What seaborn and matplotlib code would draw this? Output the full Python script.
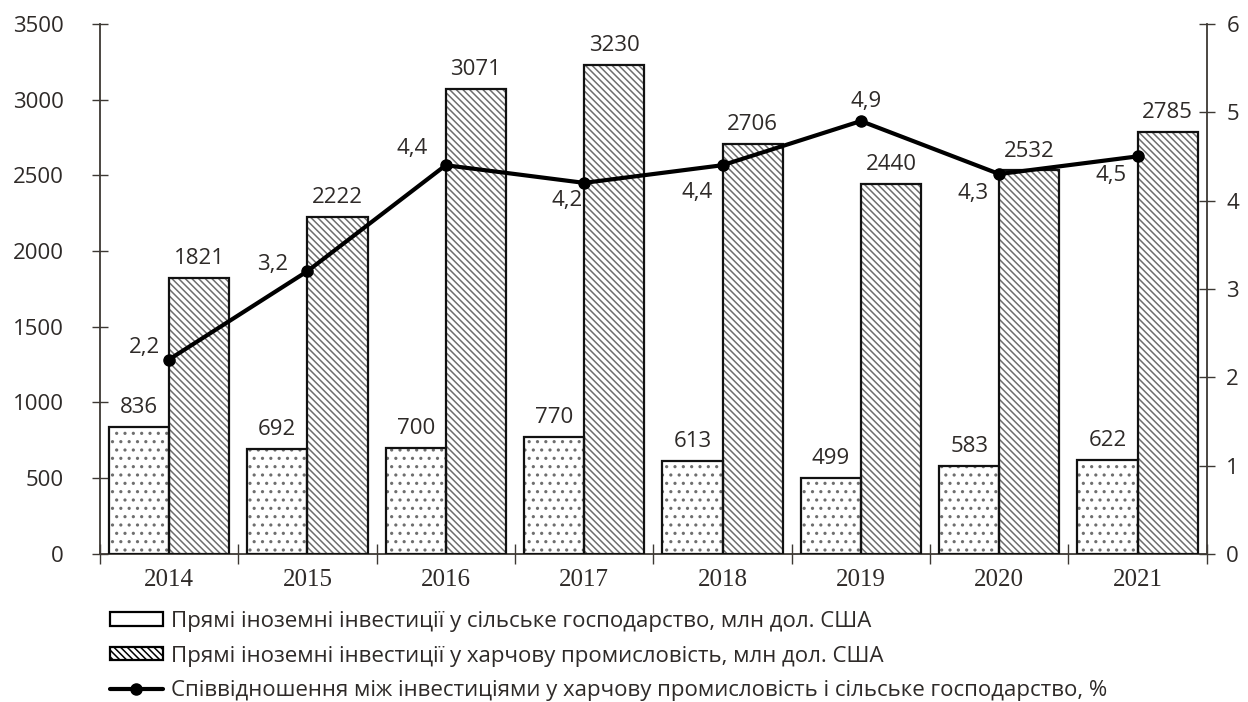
import numpy as np
import pandas as pd
import seaborn as sns
import matplotlib.pyplot as plt
from matplotlib.patches import Rectangle
from matplotlib.lines import Line2D

# data
years = ['2014', '2015', '2016', '2017', '2018', '2019', '2020', '2021']
agri = [836, 692, 700, 770, 613, 499, 583, 622]
food = [1821, 2222, 3071, 3230, 2706, 2440, 2532, 2785]
ratio = [2.2, 3.2, 4.4, 4.2, 4.4, 4.9, 4.3, 4.5]

lab_agri = 'Прямі іноземні інвестиції у сільське господарство, млн дол. США'
lab_food = 'Прямі іноземні інвестиції у харчову промисловість, млн дол. США'
lab_ratio = 'Співвідношення між інвестиціями у харчову промисловість і сільське господарство, %'

# label offsets (points) for the ratio line labels
ratio_offsets = [(-18, 9), (-25, 5), (-24, 12), (-12, -13), (-18, -20), (4, 14), (-19, -14), (-19, -14)]

sns.set_theme(style='white')
plt.rcParams['font.family'] = ['Open Sans', 'DejaVu Sans']
plt.rcParams['hatch.linewidth'] = 1.1
txt = '#2e2a28'
axc = '#3d3833'
fs = 16

df = pd.DataFrame({'year': years * 2,
                   'value': agri + food,
                   'series': [lab_agri] * len(years) + [lab_food] * len(years)})

fig = plt.figure(figsize=(12.48, 7.02), dpi=100)
ax = fig.add_axes([0.080, 0.211, 0.887, 0.755])

sns.barplot(data=df, x='year', y='value', hue='series', palette=['white', 'white'],
            width=0.87, gap=0, ax=ax, legend=False, edgecolor='#6e6e6e', linewidth=0)

hatches = ['..', '\\\\\\\\\\']
for cont, h, vals in zip(ax.containers, hatches, [agri, food]):
    for p, v in zip(cont.patches, vals):
        p.set_hatch(h)
        ax.add_patch(Rectangle(p.get_xy(), p.get_width(), p.get_height(), fill=False,
                               edgecolor='#111111', linewidth=1.6, zorder=3))
        ax.annotate(str(v), (p.get_x() + p.get_width() / 2, p.get_height()),
                    xytext=(0, 14), textcoords='offset points', ha='center', va='center',
                    fontsize=fs, color=txt)

ax.set_ylim(0, 3500)
ax.set_xlim(-0.5, len(years) - 0.5)
ax.set_yticks(np.arange(0, 3501, 500))
ax.set_xlabel('')
ax.set_ylabel('')

ax2 = ax.twinx()
ax2.set_ylim(0, 6)
ax2.set_yticks(range(7))
ax2.plot(range(len(years)), ratio, color='black', linewidth=3, marker='o', markersize=8, zorder=5)
for i, (r, off) in enumerate(zip(ratio, ratio_offsets)):
    ax2.annotate(str(r).replace('.', ','), (i, r), xytext=off, textcoords='offset points',
                 ha='center', va='center', fontsize=fs, color=txt)

for a in (ax, ax2):
    for s in a.spines.values():
        s.set_visible(False)
ax.spines['left'].set_visible(True)
ax.spines['bottom'].set_visible(True)
ax2.spines['right'].set_visible(True)
for s in (ax.spines['left'], ax.spines['bottom'], ax2.spines['right']):
    s.set_color(axc)
    s.set_linewidth(1.3)

ax.tick_params(axis='y', direction='inout', length=12, width=1, color=axc, labelsize=fs, labelcolor=txt, pad=20, left=True)
ax2.tick_params(axis='y', direction='inout', length=12, width=1, color=axc, labelsize=fs, labelcolor=txt, pad=8, right=True)
ax.set_xticks(np.arange(-0.5, len(years), 1), minor=True)
ax.tick_params(axis='x', which='major', length=0, pad=11)
ax.tick_params(axis='x', which='minor', direction='inout', length=14, width=1, color=axc, bottom=True)
for t in ax.get_xticklabels():
    t.set_fontfamily('Liberation Serif')
    t.set_fontsize(18)
    t.set_color(txt)

handles = [Rectangle((0, 0), 1, 1, facecolor='white', edgecolor='black', linewidth=1.6),
           Rectangle((0, 0), 1, 1, facecolor='white', edgecolor='black', linewidth=1.6, hatch='\\\\\\\\\\'),
           Line2D([], [], color='black', linewidth=3, marker='o', markersize=8)]
fig.legend(handles, [lab_agri, lab_food, lab_ratio], loc='upper left', bbox_to_anchor=(0.088, 0.130),
           frameon=False, fontsize=fs, labelcolor=txt, handlelength=2.4, handleheight=0.55,
           labelspacing=0.62, handletextpad=0.35, borderaxespad=0, borderpad=0)

fig.savefig('out.png', dpi=100)
